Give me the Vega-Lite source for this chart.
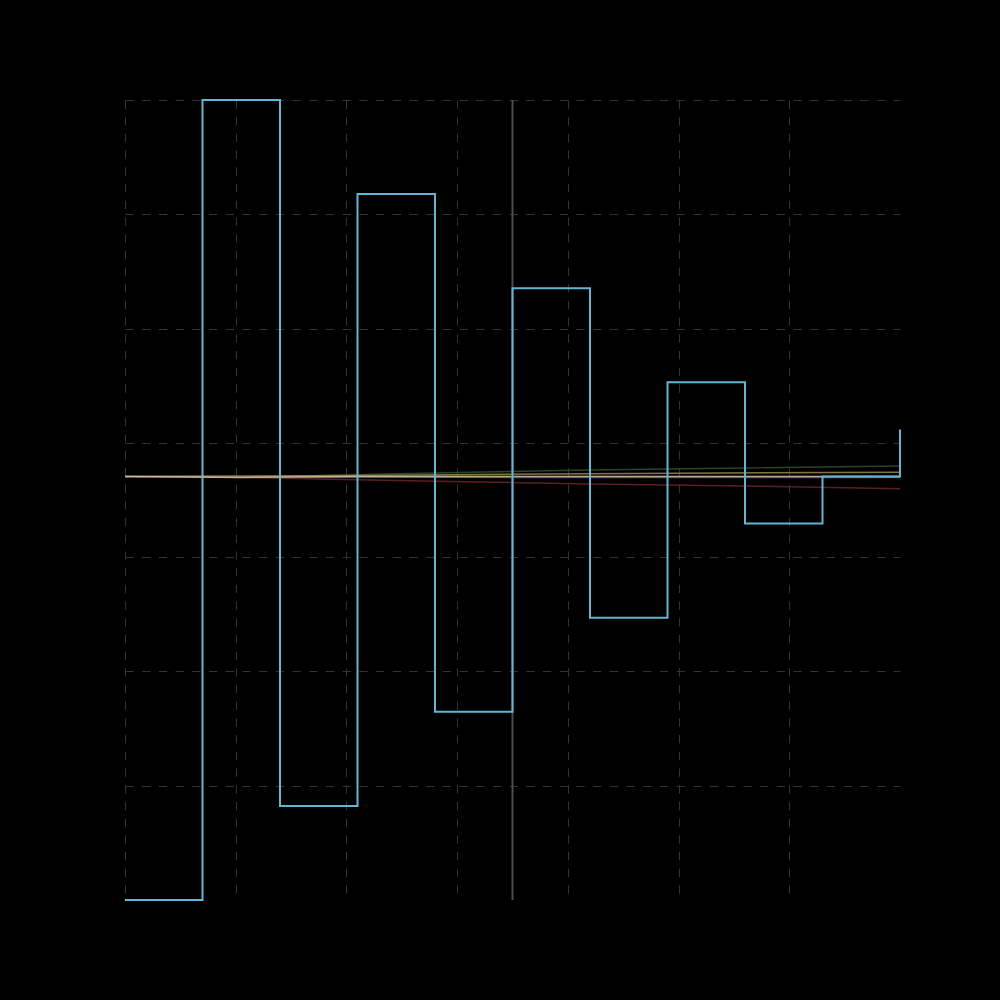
{
  "$schema": "https://vega.github.io/schema/vega-lite/v6.json",
  "width": 775,
  "height": 800,
  "autosize": {"type": "none"},
  "padding": {"left": 125, "top": 100, "right": 100, "bottom": 100},
  "background": "#000000",
  "config": {
    "view": {"stroke": null},
    "axis": {
      "labels": false, "ticks": false, "domain": false, "title": null,
      "grid": true, "gridColor": "#333333", "gridDash": [8.3, 8.4], "gridWidth": 1
    }
  },
  "datasets": {
    "steps": [
      {"t": 0, "v": -4.5}, {"t": 1, "v": 4}, {"t": 2, "v": -3.5}, {"t": 3, "v": 3},
      {"t": 4, "v": -2.5}, {"t": 5, "v": 2}, {"t": 6, "v": -1.5}, {"t": 7, "v": 1},
      {"t": 8, "v": -0.5}, {"t": 9, "v": 0}, {"t": 10, "v": 0.5}
    ],
    "drift": [
      {"s": "purple", "t": 0, "v": 0}, {"s": "purple", "t": 5, "v": -0.01}, {"s": "purple", "t": 10, "v": -0.01},
      {"s": "red", "t": 0, "v": 0}, {"s": "red", "t": 1, "v": 0}, {"s": "red", "t": 2, "v": -0.02},
      {"s": "red", "t": 4, "v": -0.05}, {"s": "red", "t": 6, "v": -0.08}, {"s": "red", "t": 8, "v": -0.1},
      {"s": "red", "t": 10, "v": -0.13},
      {"s": "green", "t": 0, "v": 0}, {"s": "green", "t": 2, "v": 0}, {"s": "green", "t": 3.5, "v": 0.03},
      {"s": "green", "t": 6, "v": 0.07}, {"s": "green", "t": 8, "v": 0.09}, {"s": "green", "t": 10, "v": 0.11},
      {"s": "olive", "t": 0, "v": 0}, {"s": "olive", "t": 3, "v": 0.01}, {"s": "olive", "t": 6, "v": 0.03},
      {"s": "olive", "t": 10, "v": 0.045},
      {"s": "tan", "t": 0, "v": 0}, {"s": "tan", "t": 1.5, "v": -0.01}, {"s": "tan", "t": 3, "v": 0},
      {"s": "tan", "t": 10, "v": 0}
    ],
    "mid": [{"t": 5}]
  },
  "layer": [
    {
      "data": {"name": "drift"},
      "mark": {"type": "line", "strokeWidth": 1.5, "opacity": 0.85},
      "encoding": {
        "x": {"field": "t", "type": "quantitative",
              "scale": {"domain": [0, 10], "nice": false, "zero": false},
              "axis": {"values": [0, 1.4286, 2.8571, 4.2857, 5.7143, 7.1429, 8.5714]}},
        "y": {"field": "v", "type": "quantitative",
              "scale": {"domain": [-4.5, 4], "nice": false, "zero": false},
              "axis": {"values": [4, 2.7857, 1.5714, 0.3571, -0.8571, -2.0714, -3.2857]}},
        "color": {"field": "s", "type": "nominal", "legend": null,
                  "scale": {"domain": ["purple", "red", "green", "olive", "tan"],
                            "range": ["#5a5070", "#6b2426", "#2e5036", "#9a8a48", "#d8c6aa"]}},
        "order": {"field": "t"}
      }
    },
    {
      "data": {"name": "mid"},
      "mark": {"type": "rule", "color": "#4d4d4d", "strokeWidth": 2},
      "encoding": {"x": {"field": "t", "type": "quantitative"}}
    },
    {
      "data": {"name": "steps"},
      "mark": {"type": "line", "interpolate": "step-after", "color": "#5fb7d5", "strokeWidth": 2},
      "encoding": {
        "x": {"field": "t", "type": "quantitative"},
        "y": {"field": "v", "type": "quantitative"}
      }
    }
  ]
}
